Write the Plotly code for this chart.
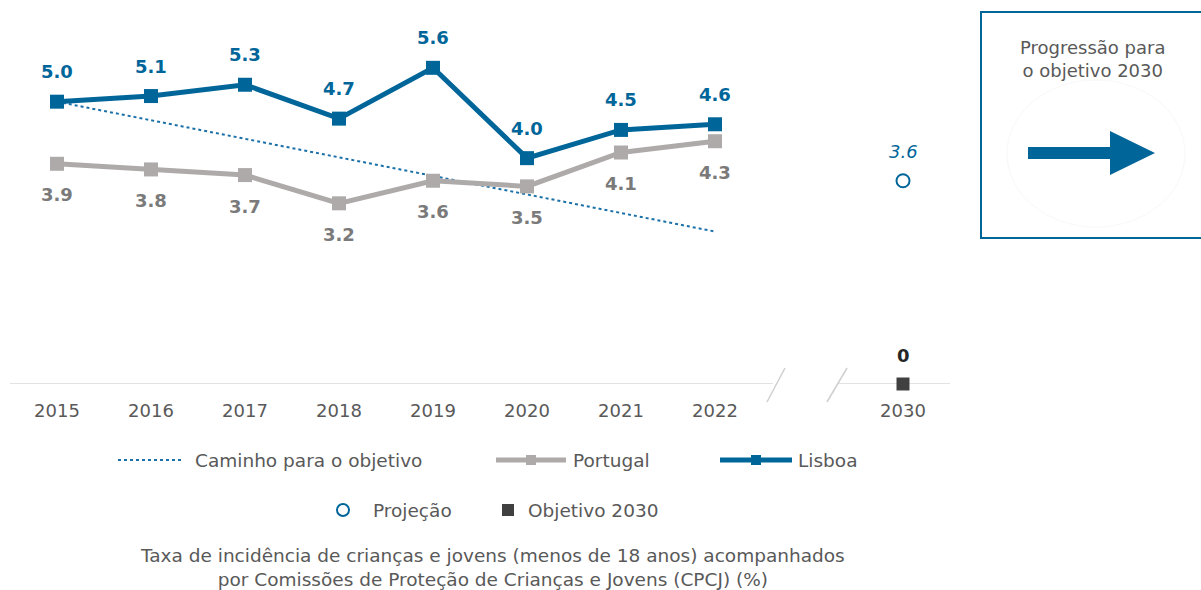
import plotly.graph_objects as go

# --- data -----------------------------------------------------------------
years = ["2015", "2016", "2017", "2018", "2019", "2020", "2021", "2022"]
lisboa = [5.0, 5.1, 5.3, 4.7, 5.6, 4.0, 4.5, 4.6]
portugal = [3.9, 3.8, 3.7, 3.2, 3.6, 3.5, 4.1, 4.3]
target_year = "2030"
projection_2030 = 3.6
objective_2030 = 0
path_years = ["2015", "2022"]
path_values = [5.0, 2.7]

tick_labels = years + [target_year]

# --- layout constants -----------------------------------------------------
W, H = 1201, 590
BLUE = "#00669a"
GREY_LINE = "#aeaaaa"
GREY_TEXT = "#7a7a7a"
TEXT = "#595959"
FONT = "DejaVu Sans, Arial, sans-serif"

# x position for each category: the 2030 slot sits two steps after 2022
pos = {y: i for i, y in enumerate(years)}
pos[target_year] = len(years) + 1
xs = [pos[y] for y in years]

# plot area in pixels
PX_L, PX_R = 10, 950
PY_T, PY_B = 17, 384
X_RANGE = [-0.5, 9.5]
Y_RANGE = [0, 6.5]


def px(x):
    return x / W


def py(y):
    return 1 - y / H


fig = go.Figure()

# path to the 2030 objective
fig.add_trace(go.Scatter(
    x=[pos[y] for y in path_years], y=path_values, mode="lines",
    line=dict(color="#1a70a8", width=2, dash="dot"), hoverinfo="skip"))

fig.add_trace(go.Scatter(
    x=xs, y=portugal, mode="lines+markers", name="Portugal",
    line=dict(color=GREY_LINE, width=5),
    marker=dict(symbol="square", size=14, color=GREY_LINE)))

fig.add_trace(go.Scatter(
    x=xs, y=lisboa, mode="lines+markers", name="Lisboa",
    line=dict(color=BLUE, width=5),
    marker=dict(symbol="square", size=14, color=BLUE)))

fig.add_trace(go.Scatter(
    x=[pos[target_year]], y=[projection_2030], mode="markers", name="Projeção",
    marker=dict(symbol="circle-open", size=13, color=BLUE, line=dict(width=2))))

fig.add_trace(go.Scatter(
    x=[pos[target_year]], y=[objective_2030], mode="markers", name="Objetivo 2030",
    cliponaxis=False,
    marker=dict(symbol="square", size=13, color="#404040")))

annotations = []
for x, v in zip(xs, lisboa):
    annotations.append(dict(x=x, y=v, xref="x", yref="y", text=f"<b>{v:.1f}</b>",
                            showarrow=False, yshift=30,
                            font=dict(family=FONT, size=18, color=BLUE)))
for x, v in zip(xs, portugal):
    annotations.append(dict(x=x, y=v, xref="x", yref="y", text=f"<b>{v:.1f}</b>",
                            showarrow=False, yshift=-31,
                            font=dict(family=FONT, size=18, color=GREY_TEXT)))
annotations.append(dict(x=pos[target_year], y=projection_2030, xref="x", yref="y",
                        text=f"<i>{projection_2030:.1f}</i>", showarrow=False, yshift=29,
                        font=dict(family=FONT, size=18, color=BLUE)))
annotations.append(dict(x=pos[target_year], y=objective_2030, xref="x", yref="y",
                        text=f"<b>{objective_2030}</b>", showarrow=False, yshift=29,
                        font=dict(family=FONT, size=18, color="#262626")))

shapes = []
# axis baseline with a break between 2022 and 2030
AX = "#d9d9d9"
shapes.append(dict(type="line", xref="paper", yref="y", x0=px(PX_L), x1=px(773),
                   y0=0, y1=0, layer="below", line=dict(color=AX, width=1.5)))
shapes.append(dict(type="line", xref="paper", yref="y", x0=px(837), x1=px(PX_R),
                   y0=0, y1=0, layer="below", line=dict(color=AX, width=1.5)))
for (x0, y0, x1, y1) in [(767, 402, 785, 368), (827, 402, 847, 368)]:
    shapes.append(dict(type="line", xref="paper", yref="paper",
                       x0=px(x0), y0=py(y0), x1=px(x1), y1=py(y1),
                       line=dict(color="#cfcfcf", width=1.5)))

# legend, row 1
LY1, LY2 = 460, 510
shapes.append(dict(type="line", xref="paper", yref="paper", x0=px(118), x1=px(182),
                   y0=py(LY1), y1=py(LY1), line=dict(color="#1a70a8", width=2, dash="dot")))
for (a, b, c) in [(496, 566, GREY_LINE), (720, 792, BLUE)]:
    shapes.append(dict(type="line", xref="paper", yref="paper", x0=px(a), x1=px(b),
                       y0=py(LY1), y1=py(LY1), line=dict(color=c, width=5)))
    m = (a + b) / 2
    shapes.append(dict(type="rect", xref="paper", yref="paper",
                       x0=px(m - 5), x1=px(m + 5), y0=py(LY1 + 5), y1=py(LY1 - 5),
                       fillcolor=c, line=dict(width=0)))
# legend, row 2
shapes.append(dict(type="circle", xref="paper", yref="paper",
                   x0=px(337), x1=px(349), y0=py(LY2 + 6), y1=py(LY2 - 6),
                   line=dict(color=BLUE, width=2)))
shapes.append(dict(type="rect", xref="paper", yref="paper",
                   x0=px(502), x1=px(514), y0=py(LY2 + 6), y1=py(LY2 - 6),
                   fillcolor="#404040", line=dict(width=0)))

legend_text = [("Caminho para o objetivo", 193, LY1), ("Portugal", 571, LY1),
               ("Lisboa", 796, LY1), ("Projeção", 371, LY2), ("Objetivo 2030", 526, LY2)]
for t, x, y in legend_text:
    annotations.append(dict(x=px(x), y=py(y), xref="paper", yref="paper", text=t,
                            showarrow=False, xanchor="left", yanchor="middle",
                            font=dict(family=FONT, size=18.5, color=TEXT)))

# caption
annotations.append(dict(
    x=px(492), y=py(567), xref="paper", yref="paper",
    text="Taxa de incidência de crianças e jovens (menos de 18 anos) acompanhados"
         "<br>por Comissões de Proteção de Crianças e Jovens (CPCJ) (%)",
    showarrow=False, xanchor="center", yanchor="middle",
    font=dict(family=FONT, size=18.5, color=TEXT)))

# progress box with arrow
shapes.append(dict(type="rect", xref="paper", yref="paper",
                   x0=px(981), x1=px(1206), y0=py(238), y1=py(12),
                   line=dict(color=BLUE, width=2), fillcolor="rgba(0,0,0,0)"))
shapes.append(dict(type="circle", xref="paper", yref="paper",
                   x0=px(1007), x1=px(1185), y0=py(227), y1=py(80),
                   line=dict(color="#f8f8f8", width=1)))
arrow = [(1028, 147), (1110, 147), (1110, 131), (1155, 153), (1110, 175),
         (1110, 159), (1028, 159)]
path = "M " + " L ".join(f"{px(a)},{py(b)}" for a, b in arrow) + " Z"
shapes.append(dict(type="path", xref="paper", yref="paper", path=path,
                   fillcolor=BLUE, line=dict(width=0)))
annotations.append(dict(x=px(1092), y=py(59), xref="paper", yref="paper",
                        text="Progressão para<br>o objetivo 2030", showarrow=False,
                        xanchor="center", yanchor="middle",
                        font=dict(family=FONT, size=18, color=TEXT)))

fig.update_layout(
    width=W, height=H,
    margin=dict(l=0, r=0, t=0, b=0),
    paper_bgcolor="white", plot_bgcolor="rgba(0,0,0,0)",
    showlegend=False,
    xaxis=dict(domain=[px(PX_L), px(PX_R)], range=X_RANGE,
               tickmode="array", tickvals=[pos[t] for t in tick_labels],
               ticktext=tick_labels, showgrid=False, zeroline=False, showline=False,
               ticks="", ticklabelstandoff=14,
               tickfont=dict(family=FONT, size=18, color=TEXT)),
    yaxis=dict(domain=[py(PY_B), py(PY_T)], range=Y_RANGE, visible=False),
    annotations=annotations, shapes=shapes,
)

fig.write_html("out.html")
